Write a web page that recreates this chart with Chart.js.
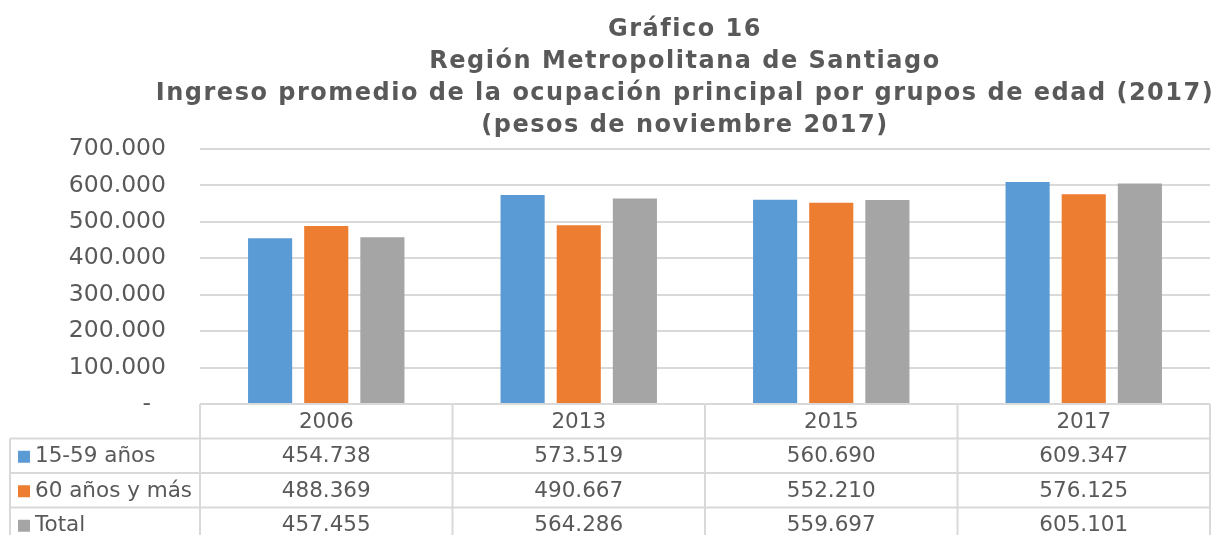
<!DOCTYPE html>
<html lang="es">
<head>
    <meta charset="UTF-8">
    <title>Gráfico 16</title>
    <script src="https://cdn.jsdelivr.net/npm/chart.js"></script>
    <style>
        body { margin: 0; background: #fff; }
        #wrap { width: 1218px; height: 535px; }
    </style>
</head>
<body>
    <div id="wrap"><canvas id="chart" width="1218" height="535"></canvas></div>
    <script>
        const titleLines = [
            'Gráfico 16',
            'Región Metropolitana de Santiago',
            'Ingreso promedio de la ocupación principal por grupos de edad (2017)',
            '(pesos de noviembre 2017)'
        ];
        const years = ['2006', '2013', '2015', '2017'];
        const seriesNames = ['15-59 años', '60 años y más', 'Total'];
        const edad1559 = [454738, 573519, 560690, 609347];
        const edad60mas = [488369, 490667, 552210, 576125];
        const total = [457455, 564286, 559697, 605101];
        const yTicks = [0, 100000, 200000, 300000, 400000, 500000, 600000, 700000];

        const colors = ['#5B9BD5', '#ED7D31', '#A5A5A5'];
        const textColor = '#595959';
        const lineColor = '#D9D9D9';
        const fontFamily = '"DejaVu Sans", Verdana, sans-serif';

        function fmt(v) {
            return v.toString().replace(/\B(?=(\d{3})+(?!\d))/g, '.');
        }

        // title drawn by hand so it can sit off-center like the original
        const titlePlugin = {
            id: 'titleLines',
            afterDraw(chart) {
                const ctx = chart.ctx;
                ctx.save();
                ctx.fillStyle = textColor;
                ctx.font = 'bold 24px ' + fontFamily;
                ctx.letterSpacing = '1.5px';
                ctx.textAlign = 'center';
                ctx.textBaseline = 'alphabetic';
                titleLines.forEach((t, i) => {
                    ctx.fillText(t, 685, 36 + i * 32);
                });
                ctx.restore();
            }
        };

        // data table under the plot, columns follow the category scale
        const tablePlugin = {
            id: 'dataTable',
            afterDraw(chart) {
                const ctx = chart.ctx;
                const area = chart.chartArea;
                const xs = chart.scales.x;
                const n = years.length;
                const colW = (area.right - area.left) / n;
                const rowH = 34.5;
                const top = area.bottom;
                const legLeft = 10;
                const bottom = top + rowH * 4;
                const rows = chart.data.datasets;

                ctx.save();
                ctx.strokeStyle = lineColor;
                ctx.lineWidth = 2;
                ctx.beginPath();
                // horizontal lines
                ctx.moveTo(area.left, top);
                ctx.lineTo(area.right, top);
                for (let r = 1; r <= 4; r++) {
                    ctx.moveTo(legLeft, top + rowH * r);
                    ctx.lineTo(area.right, top + rowH * r);
                }
                // vertical lines
                for (let c = 0; c <= n; c++) {
                    const x = area.left + colW * c;
                    ctx.moveTo(x, top);
                    ctx.lineTo(x, bottom);
                }
                ctx.moveTo(legLeft, top + rowH);
                ctx.lineTo(legLeft, bottom);
                ctx.stroke();

                ctx.fillStyle = textColor;
                ctx.font = '21.5px ' + fontFamily;
                ctx.textBaseline = 'middle';
                ctx.textAlign = 'center';
                years.forEach((y, i) => {
                    ctx.fillText(y, xs.getPixelForValue(i), top + rowH / 2 + 1);
                });
                rows.forEach((ds, r) => {
                    const cy = top + rowH * (r + 1) + rowH / 2 + 1;
                    ctx.textAlign = 'center';
                    ctx.fillStyle = textColor;
                    ds.data.forEach((v, i) => {
                        ctx.fillText(fmt(v), xs.getPixelForValue(i), cy);
                    });
                    ctx.fillStyle = ds.backgroundColor;
                    ctx.fillRect(18, cy - 6, 12, 12);
                    ctx.fillStyle = textColor;
                    ctx.textAlign = 'left';
                    ctx.fillText(ds.label, 35, cy);
                });
                ctx.restore();
            }
        };

        new Chart(document.getElementById('chart'), {
            type: 'bar',
            data: {
                labels: years,
                datasets: [
                    { label: seriesNames[0], data: edad1559, backgroundColor: colors[0] },
                    { label: seriesNames[1], data: edad60mas, backgroundColor: colors[1] },
                    { label: seriesNames[2], data: total, backgroundColor: colors[2] }
                ]
            },
            options: {
                responsive: false,
                animation: false,
                maintainAspectRatio: false,
                layout: { padding: { top: 149, bottom: 131, left: 0, right: 8 } },
                datasets: {
                    bar: { categoryPercentage: 0.667, barPercentage: 0.786 }
                },
                plugins: {
                    legend: { display: false },
                    title: { display: false },
                    tooltip: { enabled: false }
                },
                scales: {
                    x: { display: false },
                    y: {
                        min: 0,
                        max: 700000,
                        afterFit(scale) { scale.width = 200; },
                        afterBuildTicks(scale) {
                            scale.ticks = yTicks.map(v => ({ value: v }));
                        },
                        border: { display: false },
                        grid: { color: lineColor, lineWidth: 2, drawTicks: false },
                        ticks: {
                            padding: 34,
                            color: textColor,
                            font: { family: fontFamily, size: 23.5 },
                            callback: v => v === 0 ? '-  ' : fmt(v)
                        }
                    }
                }
            },
            plugins: [titlePlugin, tablePlugin]
        });
    </script>
</body>
</html>
